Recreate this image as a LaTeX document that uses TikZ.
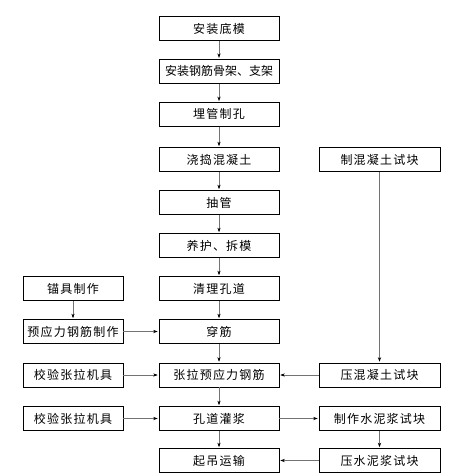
\documentclass[tikz,border=0pt]{standalone}
\usepackage{fontspec}
\newfontfamily\cjk[LetterSpace=10]{Noto Sans CJK SC}
\newfontfamily\cjktight{Noto Sans CJK SC}
\usetikzlibrary{arrows.meta}

\begin{document}
\begin{tikzpicture}[x=1pt,y=-1pt,
  box/.style={draw=black,line width=0.6pt,minimum height=24pt,inner sep=0pt,
    font=\cjk\fontsize{12}{13}\selectfont},
  midbox/.style={box,minimum width=120pt},
  sidebox/.style={box,minimum width=100pt},
  testbox/.style={box,minimum width=121pt},
  flow/.style={draw=black!55,line width=0.5pt,
    -{Stealth[length=4.5pt,width=3.2pt,black]},shorten >=1pt}]
\useasboundingbox (0,0) rectangle (462,474);
% main column
\node[midbox] (dimo)     at (219,28.5)  {安装底模};
\node[midbox,font=\cjktight\fontsize{12}{13}\selectfont] (gujia) at (219,71.2) {安装钢筋骨架、支架};
\node[midbox] (maiguan)  at (219,114.4) {埋管制孔};
\node[midbox] (jiaodao)  at (219,159.5) {浇捣混凝土};
\node[midbox] (chouguan) at (219,202.5) {抽管};
\node[midbox] (yanghu)   at (219,245.5) {养护、拆模};
\node[midbox] (qingli)   at (219,288.5) {清理孔道};
\node[midbox] (chuanjin) at (219,331.5) {穿筋};
\node[midbox] (zhangla)  at (219,375)   {张拉预应力钢筋};
\node[midbox] (guanjiang) at (219,418.5) {孔道灌浆};
\node[midbox] (qidiao)   at (219,460.5) {起吊运输};
% left column
\node[sidebox] (maoju)   at (73,288.5)  {锚具制作};
\node[sidebox] (yyljin)  at (73,331.5)  {预应力钢筋制作};
\node[sidebox] (jiaoyanA) at (73,375)   {校验张拉机具};
\node[sidebox] (jiaoyanB) at (73,418.5) {校验张拉机具};
% right column
\node[testbox] (zhihun)  at (379.5,159.5) {制混凝土试块};
\node[testbox] (yahun)   at (379.5,375)   {压混凝土试块};
\node[testbox] (zhishui) at (379.5,418.5) {制作水泥浆试块};
\node[testbox] (yashui)  at (379.5,460.5) {压水泥浆试块};

\foreach \a/\b in {dimo/gujia,gujia/maiguan,maiguan/jiaodao,jiaodao/chouguan,
  chouguan/yanghu,yanghu/qingli,qingli/chuanjin,chuanjin/zhangla,
  zhangla/guanjiang,guanjiang/qidiao}
  \draw[flow] (\a) -- (\b);

\draw[flow] (maoju) -- (yyljin);
\draw[flow] (yyljin) -- (chuanjin);
\draw[flow] (jiaoyanA) -- (zhangla);
\draw[flow] (jiaoyanB) -- (guanjiang);
\draw[flow] (zhihun) -- (yahun);
\draw[flow] (yahun) -- (zhangla);
\draw[flow] (guanjiang) -- (zhishui);
\draw[flow] (zhishui) -- (yashui);
\draw[flow] (yashui) -- (qidiao);
\end{tikzpicture}
\end{document}
